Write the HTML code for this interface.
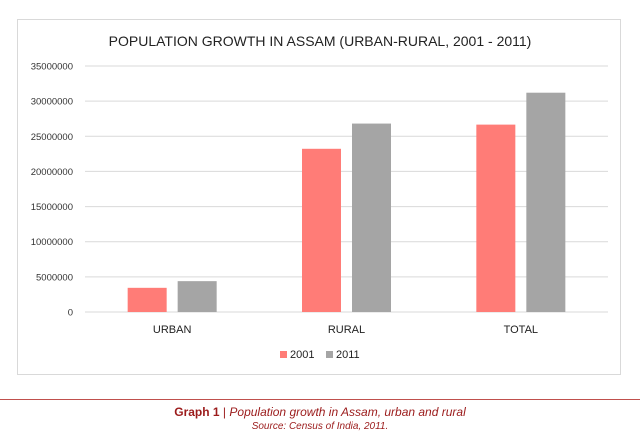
<!DOCTYPE html>
<html><head><meta charset="utf-8"><style>
body{margin:0;background:#fff;width:640px;height:443px;overflow:hidden;font-family:"Liberation Sans",sans-serif}
#box{position:absolute;left:17px;top:19px;width:604px;height:356px;border:1px solid #d9d9d9;box-sizing:border-box}
.cap{position:absolute;left:0;width:640px;text-align:center;color:#9b1b1b}
</style></head><body>
<div id="box"></div>
<svg id="chart" width="640" height="443" style="position:absolute;left:0;top:0"></svg>
<div style="position:absolute;left:0;top:399px;width:640px;height:1px;background:#c0504d"></div>
<div class="cap" style="top:405px;font-size:12px"><b>Graph 1</b> | <i>Population growth in Assam, urban and rural</i></div>
<div class="cap" style="top:421px;font-size:10px;font-style:italic">Source: Census of India, 2011.</div>
<script>
const categories=["URBAN","RURAL","TOTAL"];
const series2001=[3440000,23220000,26660000];
const series2011=[4390000,26810000,31200000];
const ticks=[0,5000000,10000000,15000000,20000000,25000000,30000000,35000000];
const NS="http://www.w3.org/2000/svg",svg=document.getElementById('chart');
function el(t,a,p){const e=document.createElementNS(NS,t);for(const k in a)e.setAttribute(k,a[k]);(p||svg).appendChild(e);return e;}
const x0=85,x1=608,y0=312,yTop=66,ymax=35000000;
const y=v=>y0-(v/ymax)*(y0-yTop);
const band=(x1-x0)/categories.length;
const t=el('text',{x:320,y:46,'text-anchor':'middle','font-size':'14',fill:'#222'});t.textContent="POPULATION GROWTH  IN ASSAM (URBAN-RURAL, 2001 - 2011)";

ticks.forEach(v=>{
 const l=el('line',{x1:x0,x2:x1,y1:y(v),y2:y(v),stroke:'#d9d9d9','stroke-width':1});
 
 const tx=el('text',{x:73,y:y(v)+3.5,'text-anchor':'end','font-size':'9.5',fill:'#333'});tx.textContent=v;
 
});
const bw=39,gap=11;
categories.forEach((c,i)=>{
 const cx=x0+band*(i+0.5);
 const r=el('rect',{x:cx-gap/2-bw,y:y(series2001[i]),width:bw,height:y0-y(series2001[i]),fill:'#ff7c77'});
 
 const g=el('rect',{x:cx+gap/2,y:y(series2011[i]),width:bw,height:y0-y(series2011[i]),fill:'#a5a5a5'});
 
 const lt=el('text',{x:cx,y:333,'text-anchor':'middle','font-size':'11',fill:'#222'});lt.textContent=c;
 
});
const lg=el('g',{});

el('rect',{x:280,y:351,width:7,height:7,fill:'#ff7c77'},lg);
const a=el('text',{x:290,y:358,'font-size':'11',fill:'#222'},lg);a.textContent="2001";
el('rect',{x:326,y:351,width:7,height:7,fill:'#a5a5a5'},lg);
const b=el('text',{x:336,y:358,'font-size':'11',fill:'#222'},lg);b.textContent="2011";
</script>
</body></html>
